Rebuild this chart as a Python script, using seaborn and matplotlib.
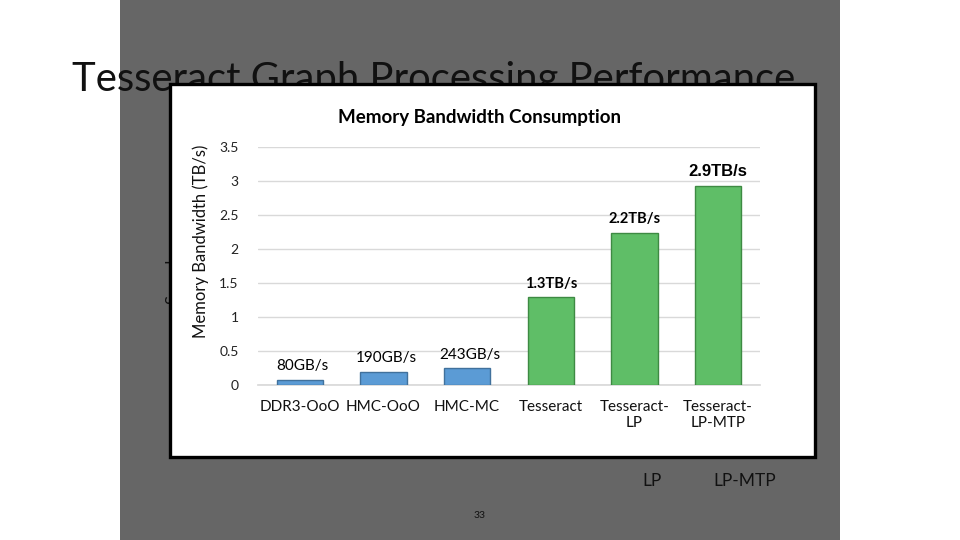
import matplotlib
matplotlib.use("Agg")
import matplotlib.pyplot as plt
import seaborn as sns
from matplotlib.patches import Rectangle

# dati
categorie = ["DDR3-OoO", "HMC-OoO", "HMC-MC", "Tesseract", "Tesseract-\nLP", "Tesseract-\nLP-MTP"]
banda_tbs = [0.08, 0.19, 0.243, 1.29, 2.24, 2.92]
etichette = ["80GB/s", "190GB/s", "243GB/s", "1.3TB/s", "2.2TB/s", "2.9TB/s"]
colori = ["#5B9BD5", "#5B9BD5", "#5B9BD5", "#5FBE67", "#5FBE67", "#5FBE67"]
bordi = ["#41719C", "#41719C", "#41719C", "#3E8A43", "#3E8A43", "#3E8A43"]
y_ticks = [0, 0.5, 1, 1.5, 2, 2.5, 3, 3.5]

# testi della slide nascosti dietro il grafico
slide_titolo = "Tesseract Graph Processing Performance"
etichette_sotto = ["DDR3-OoO", "HMC-OoO", "HMC-MC", "Tesseract", "Tesseract-", "Tesseract-"]

W, H = 960, 540
FONT = ["Lato", "DejaVu Sans"]


def px(x, y):
    """Coordinate in pixel (origine in alto a sinistra) -> frazioni della figura."""
    return x / W, 1 - y / H


sns.set_theme(style="white")
plt.rcParams["font.family"] = FONT

fig = plt.figure(figsize=(9.6, 5.4), dpi=100)
fig.patch.set_facecolor("white")

# sfondo grigio della slide (4:3 dentro 16:9)
fig.patches.append(Rectangle(px(120, 540), 720 / W, 1, transform=fig.transFigure,
                             facecolor="#666666", edgecolor="none", zorder=-5))

# titolo della slide
x, y = px(72, 80)
fig.text(x, y, slide_titolo, fontsize=28.8, fontweight="normal", color="#111111",
         ha="left", va="center", zorder=-4)

# parti del grafico precedente, quasi coperte
x, y = px(174, 272)
fig.text(x, y, "Speedup", fontsize=12, rotation=90, color="#111111",
         ha="center", va="center", zorder=-4)
centri_sotto = [270, 352, 474, 566, 660, 745]
for c, lab in zip(centri_sotto, etichette_sotto):
    x, y = px(c, 454)
    fig.text(x, y, lab, fontsize=12.5, color="#111111", ha="center", va="center", zorder=-4)
x, y = px(652, 481)
fig.text(x, y, "LP", fontsize=12.5, color="#111111", ha="center", va="center", zorder=-4)
x, y = px(745, 481)
fig.text(x, y, "LP-MTP", fontsize=12.5, color="#111111", ha="center", va="center", zorder=-4)

# numero di pagina
x, y = px(480, 515)
fig.text(x, y, "33", fontsize=7.5, color="#111111", ha="center", va="center", zorder=-4)

# riquadro bianco del grafico
fig.patches.append(Rectangle(px(170, 457), (815 - 170) / W, (457 - 84) / H,
                             transform=fig.transFigure, facecolor="white",
                             edgecolor="black", linewidth=2.4, zorder=-2))

# titolo del grafico
x, y = px(479, 117)
fig.text(x, y, "Memory Bandwidth Consumption", fontsize=13.5, fontweight="bold",
         color="black", ha="center", va="center")

# area del grafico
left, bottom = px(258, 385)
ax = fig.add_axes([left, bottom, (760 - 258) / W, (385 - 147) / H])
ax.set_facecolor("none")

sns.barplot(x=categorie, y=banda_tbs, hue=categorie, palette=colori, legend=False,
            width=0.55, saturation=1, ax=ax, zorder=3)
for bar, ec in zip(ax.patches, bordi):
    bar.set_edgecolor(ec)
    bar.set_linewidth(1.0)

ax.set_ylim(0, 3.5)
ax.set_xlim(-0.5, len(categorie) - 0.5)
ax.set_yticks(y_ticks)
ax.set_yticklabels([f"{t:g}" for t in y_ticks])
ax.yaxis.grid(True, color="#D9D9D9", linewidth=1)
ax.set_axisbelow(True)
for s in ["top", "right", "left"]:
    ax.spines[s].set_visible(False)
ax.spines["bottom"].set_color("#D9D9D9")
ax.tick_params(axis="y", length=0, pad=14, labelsize=10, labelcolor="#222222")
ax.tick_params(axis="x", length=0, pad=11, labelsize=11, labelcolor="#111111")
ax.set_xlabel("")
ax.set_ylabel("Memory Bandwidth (TB/s)", fontsize=12, color="#111111")
ax.yaxis.set_label_coords(-0.097, 0.605)

# etichette sopra le barre
for i, (v, lab) in enumerate(zip(banda_tbs, etichette)):
    if i < 3:
        ax.annotate(lab, (i, v), xytext=(2, 10), textcoords="offset points",
                    ha="center", va="center", fontsize=11, color="black")
    elif i < 5:
        ax.annotate(lab, (i, v), xytext=(0, 9.5), textcoords="offset points",
                    ha="center", va="center", fontsize=10.5, fontweight="bold", color="black")
    else:
        ax.annotate(lab, (i, v), xytext=(0, 10.5), textcoords="offset points",
                    ha="center", va="center", fontsize=12, fontweight="bold",
                    color="black", family=["Liberation Sans", "DejaVu Sans"])

fig.savefig("out.png", dpi=100)
